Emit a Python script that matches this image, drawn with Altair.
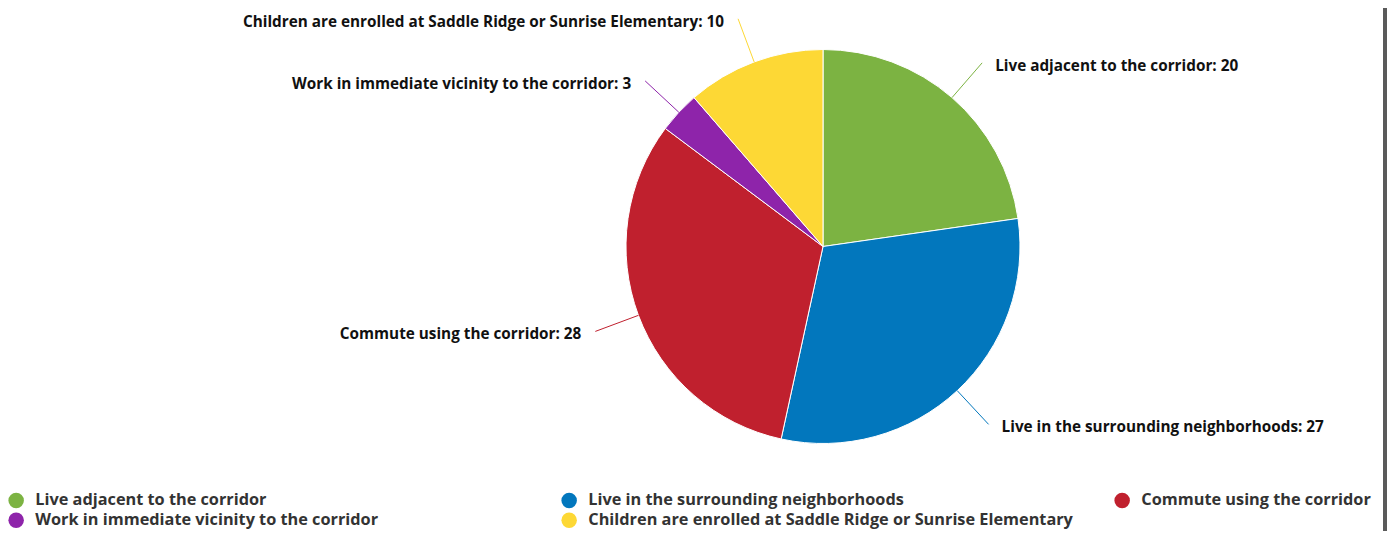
import altair as alt
import pandas as pd

categories = [
    "Live adjacent to the corridor",
    "Live in the surrounding neighborhoods",
    "Commute using the corridor",
    "Work in immediate vicinity to the corridor",
    "Children are enrolled at Saddle Ridge or Sunrise Elementary",
]
values = [20, 27, 28, 3, 10]
colors = ["#7CB342", "#0277BD", "#C0202E", "#8E24AA", "#FDD835"]

df = pd.DataFrame({"category": categories, "value": values, "order": list(range(len(values)))})

CX, CY, R, R2 = 815, 238.5, 197, 243
FONT = "Open Sans"

color_scale = alt.Scale(domain=categories, range=colors)

base = alt.Chart(df)

arcs = base.mark_arc(stroke="white", strokeWidth=1, radius=R).encode(
    theta=alt.Theta("value:Q", stack=True),
    order=alt.Order("order:Q"),
    color=alt.Color(
        "category:N",
        scale=color_scale,
        sort=categories,
        legend=alt.Legend(
            title=None,
            orient="none",
            direction="horizontal",
            legendX=0,
            legendY=484,
            columns=3,
            gridAlign="all",
            columnPadding=41,
            rowPadding=3,
            padding=0,
            symbolType="circle",
            symbolSize=240,
            symbolStrokeWidth=0,
            labelFont=FONT,
            labelFontSize=16.3,
            labelFontWeight="bold",
            labelColor="#333333",
            labelOffset=11,
            labelLimit=0,
        ),
    ),
    x=alt.value(CX),
    y=alt.value(CY),
)

geo = (
    base.transform_window(cum="sum(value)", sort=[alt.SortField("order")], frame=[None, 0])
    .transform_joinaggregate(total="sum(value)")
    .transform_calculate(mid="(datum.cum - datum.value/2)/datum.total*2*PI")
    .transform_calculate(
        x0=f"{CX} + {R}*sin(datum.mid)",
        y0=f"{CY} - {R}*cos(datum.mid)",
        x1=f"{CX} + {R2}*sin(datum.mid)",
        y1=f"{CY} - {R2}*cos(datum.mid)",
        label="datum.category + ': ' + datum.value",
        right="sin(datum.mid) > 0",
    )
    .transform_calculate(
        lx="datum.right ? datum.x1 + 13 : datum.x1 - 14",
        ly="datum.y1 + 3",
    )
)

connectors = geo.mark_rule(strokeWidth=1).encode(
    x=alt.X("x0:Q", scale=None),
    y=alt.Y("y0:Q", scale=None),
    x2="x1:Q",
    y2="y1:Q",
    color=alt.Color("category:N", scale=color_scale, legend=None),
)

text_style = dict(font=FONT, fontSize=15.3, fontWeight="bold", color="#111111", baseline="middle")

labels_right = geo.transform_filter("datum.right").mark_text(align="left", **text_style).encode(
    x=alt.X("lx:Q", scale=None), y=alt.Y("ly:Q", scale=None), text="label:N"
)
labels_left = geo.transform_filter("!datum.right").mark_text(align="right", **text_style).encode(
    x=alt.X("lx:Q", scale=None), y=alt.Y("ly:Q", scale=None), text="label:N"
)

border = base.mark_rule(color="#5a5a5a", strokeWidth=4).encode(
    x=alt.value(1377), y=alt.value(-8), y2=alt.value(531)
)

chart = (
    alt.layer(arcs, connectors, labels_right, labels_left, border)
    .properties(width=1379, height=523, padding=0, autosize=alt.AutoSizeParams(type="none"))
    .configure_view(stroke=None)
)

chart.save("out.html", embed_options={"renderer": "svg", "actions": False})
